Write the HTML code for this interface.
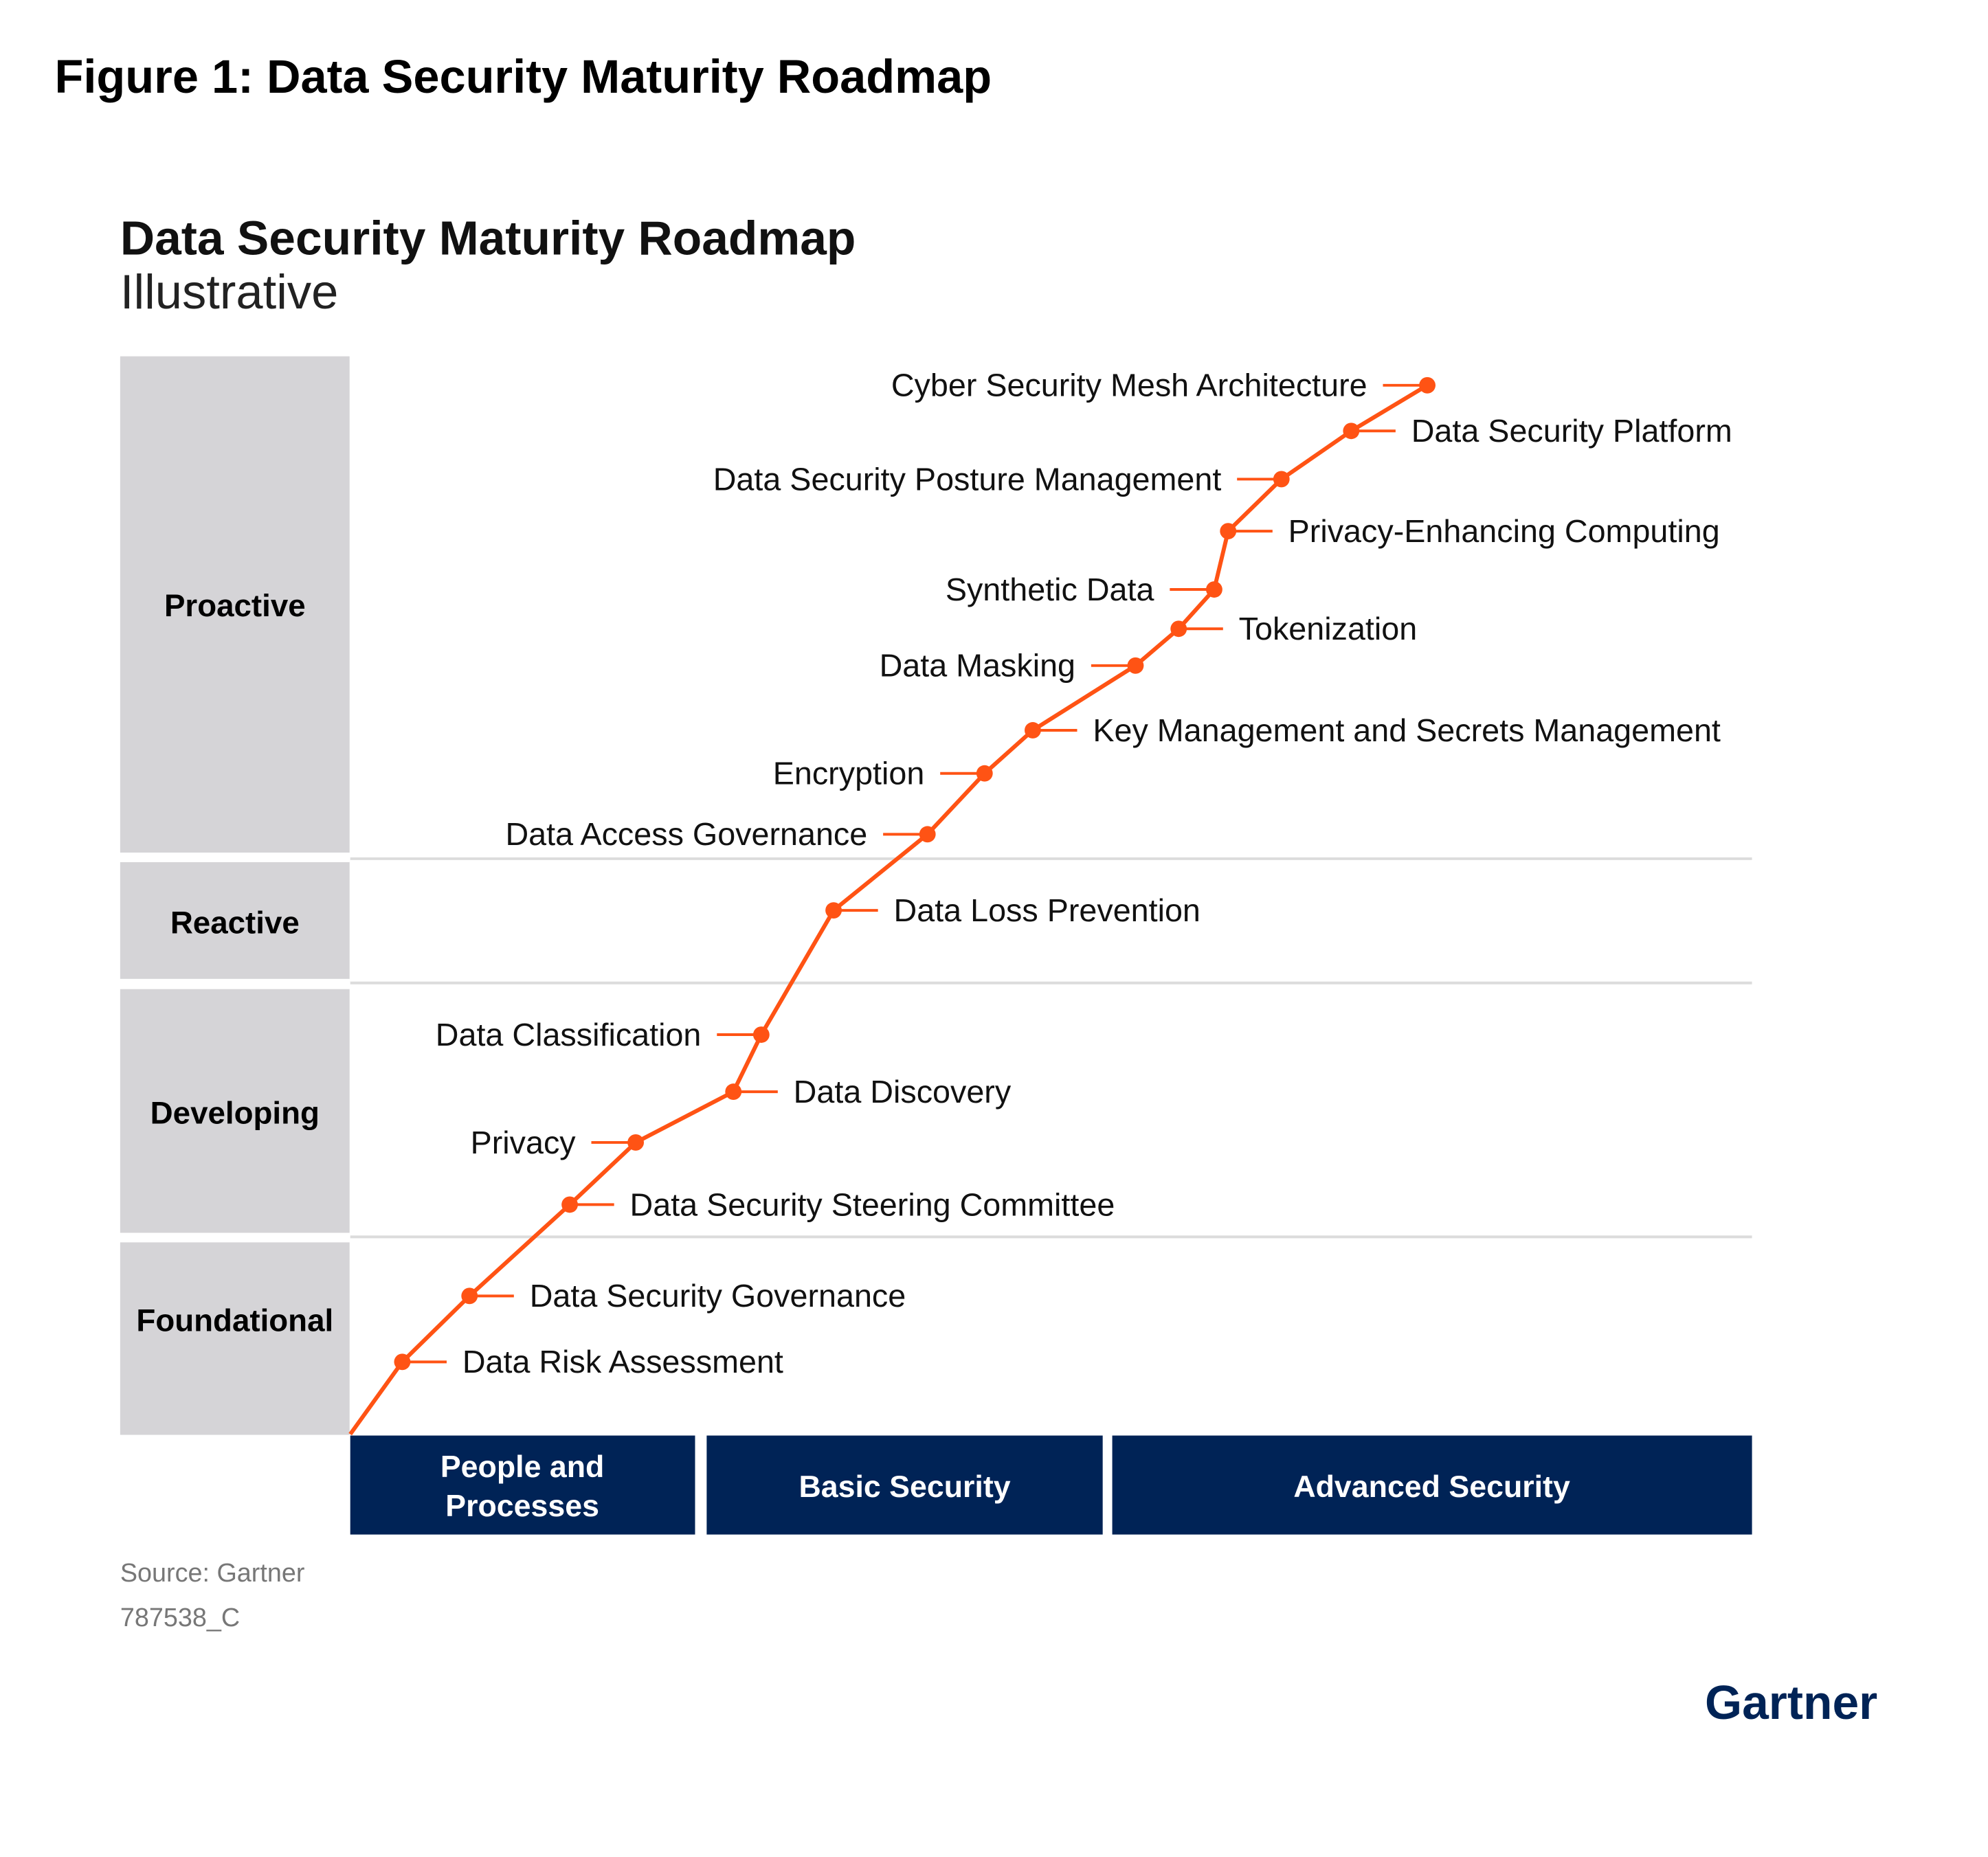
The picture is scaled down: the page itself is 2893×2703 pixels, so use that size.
<!DOCTYPE html>
<html><head><meta charset="utf-8"><style>
html,body{margin:0;padding:0;background:#fff;}
svg{display:block;font-family:"Liberation Sans",sans-serif;}
</style></head><body>
<svg id="chart" width="2893" height="2703" viewBox="0 0 2893 2703" xmlns="http://www.w3.org/2000/svg">
<rect x="0" y="0" width="2893" height="2703" fill="#ffffff"/>
<g transform="scale(0.9936)">
<text x="80" y="136" font-size="69" font-weight="bold" fill="#000">Figure 1: Data Security Maturity Roadmap</text>
<text x="176" y="373" font-size="70" font-weight="bold" fill="#111">Data Security Maturity Roadmap</text>
<text x="176" y="452" font-size="71" fill="#222">Illustrative</text>

<g>
<rect x="176" y="522" width="336" height="727" fill="#d5d4d7"/>
<rect x="176" y="1263" width="336" height="171" fill="#d5d4d7"/>
<rect x="176" y="1449" width="336" height="357" fill="#d5d4d7"/>
<rect x="176" y="1820" width="336" height="282" fill="#d5d4d7"/>
<text x="344" y="903" font-size="46" font-weight="bold" text-anchor="middle">Proactive</text>
<text x="344" y="1367" font-size="46" font-weight="bold" text-anchor="middle">Reactive</text>
<text x="344" y="1646" font-size="46" font-weight="bold" text-anchor="middle">Developing</text>
<text x="344" y="1950" font-size="46" font-weight="bold" text-anchor="middle">Foundational</text>
</g>
<g stroke="#dcdcdc" stroke-width="4">
<line x1="513" y1="1258" x2="2566" y2="1258"/>
<line x1="513" y1="1440" x2="2566" y2="1440"/>
<line x1="513" y1="1812" x2="2566" y2="1812"/>
</g>

<g>
<rect x="513" y="2103" width="505" height="145" fill="#002356"/>
<rect x="1035" y="2103" width="580" height="145" fill="#002356"/>
<rect x="1629" y="2103" width="937" height="145" fill="#002356"/>
<text x="765" y="2164" font-size="45" font-weight="bold" fill="#fff" text-anchor="middle">People and</text>
<text x="765" y="2221" font-size="45" font-weight="bold" fill="#fff" text-anchor="middle">Processes</text>
<text x="1325" y="2193" font-size="45" font-weight="bold" fill="#fff" text-anchor="middle">Basic Security</text>
<text x="2097" y="2193" font-size="45" font-weight="bold" fill="#fff" text-anchor="middle">Advanced Security</text>
</g>

<g id="series"></g>

<text x="176" y="2317" font-size="38" fill="#777">Source: Gartner</text>
<text x="176" y="2382" font-size="38" fill="#777">787538_C</text>
<text x="2497" y="2518" font-size="70" font-weight="bold" fill="#002356">Gartner</text>
</g>
</svg>
<script>
const names = ["Data Risk Assessment","Data Security Governance","Data Security Steering Committee","Privacy","Data Discovery","Data Classification","Data Loss Prevention","Data Access Governance","Encryption","Key Management and Secrets Management","Data Masking","Tokenization","Synthetic Data","Privacy-Enhancing Computing","Data Security Posture Management","Data Security Platform","Cyber Security Mesh Architecture"];
const xVals = [41,94,173,225,302,324,381,455,500,538,619,653,681,692,734,789,849];
const yVals = [57,109,181,230,270,315,413,473,521,555,606,635,666,712,753,791,827];
const sides = ["R","R","R","L","R","L","R","L","L","R","L","R","L","R","L","R","L"];
const startX = 0, startY = 0;

const S = 1.858;
function xScale(v){ return 513 + v * S; }
function yScale(v){ return 2101 - v * S; }

const g = document.getElementById('series');
const ns = 'http://www.w3.org/2000/svg';
const orange = '#ff5314';

let d = 'M' + xScale(startX) + ' ' + yScale(startY);
for (let i = 0; i < xVals.length; i++) d += ' L' + xScale(xVals[i]) + ' ' + yScale(yVals[i]);
const path = document.createElementNS(ns, 'path');
path.setAttribute('d', d);
path.setAttribute('fill', 'none');
path.setAttribute('stroke', orange);
path.setAttribute('stroke-width', '6');
path.setAttribute('stroke-linejoin', 'round');


g.appendChild(path);

for (let i = 0; i < xVals.length; i++) {
  const cx = xScale(xVals[i]), cy = yScale(yVals[i]);
  const right = sides[i] === 'R';
  const tick = document.createElementNS(ns, 'line');
  tick.setAttribute('x1', cx);
  tick.setAttribute('y1', cy);
  tick.setAttribute('x2', right ? cx + 65 : cx - 65);
  tick.setAttribute('y2', cy);
  tick.setAttribute('stroke', orange);
  tick.setAttribute('stroke-width', '4');
  
  
  g.appendChild(tick);
  const c = document.createElementNS(ns, 'circle');
  c.setAttribute('cx', cx);
  c.setAttribute('cy', cy);
  c.setAttribute('r', '12');
  c.setAttribute('fill', orange);
  
  
  g.appendChild(c);
  const t = document.createElementNS(ns, 'text');
  t.setAttribute('x', right ? cx + 88 : cx - 88);
  t.setAttribute('y', cy + 16);
  t.setAttribute('font-size', '47');
  t.setAttribute('fill', '#111');
  t.setAttribute('text-anchor', right ? 'start' : 'end');
  
  
  t.textContent = names[i];
  g.appendChild(t);
}
</script>
</body></html>
